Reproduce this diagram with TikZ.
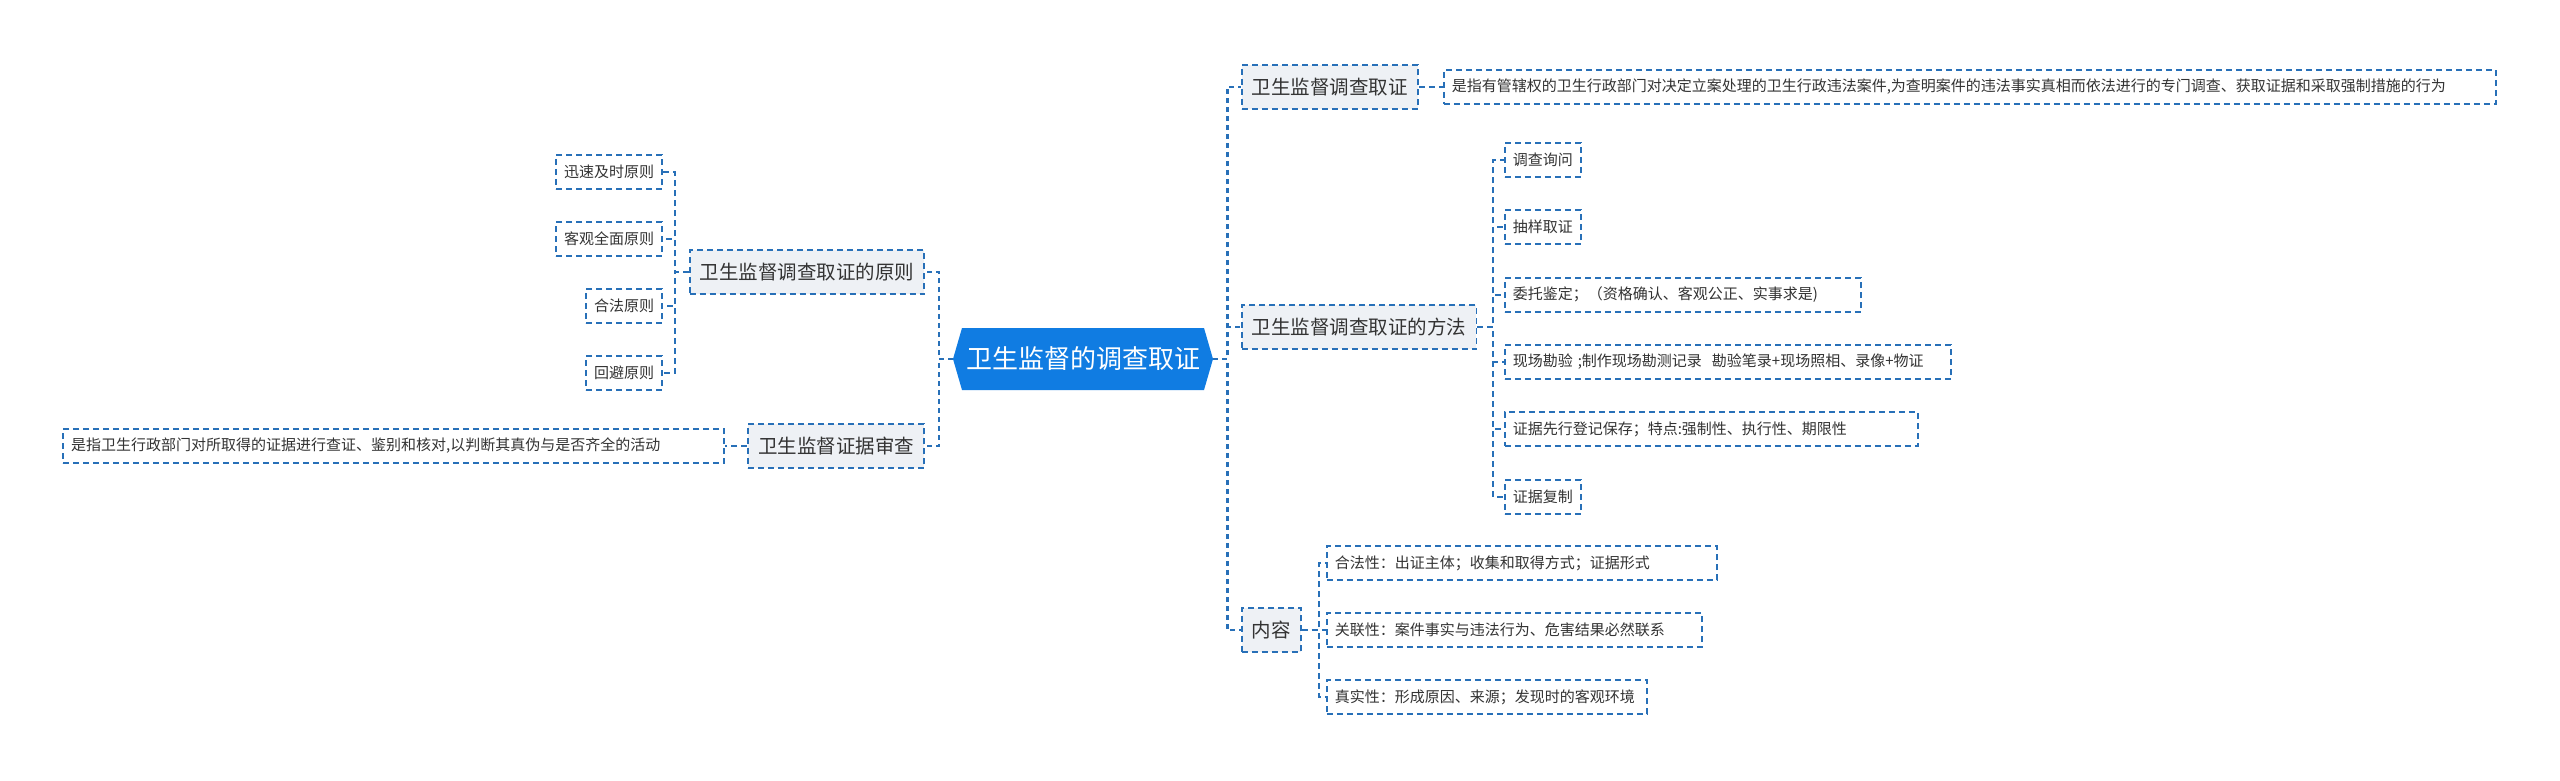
\documentclass[tikz,border=0pt]{standalone}
\usepackage{fontspec}
\newfontfamily\cjk{Noto Sans CJK SC}
\definecolor{lc}{RGB}{40,112,184}
\definecolor{cfill}{RGB}{16,124,226}
\definecolor{subfill}{RGB}{238,241,245}
\definecolor{tc}{RGB}{51,51,51}
\begin{document}
\begin{tikzpicture}[x=1pt,y=-1pt,
  conn/.style={draw=lc, dash pattern=on 6pt off 4pt, line width=1.8pt},
  trunk/.style={draw=lc, dash pattern=on 5pt off 4pt, line width=2.6pt},
  sub/.style={draw=lc, dash pattern=on 6pt off 4pt, line width=1.8pt, fill=subfill, text=tc,
    font=\cjk\fontsize{19.5}{22}\selectfont, inner xsep=10pt, inner ysep=0pt, minimum height=44pt},
  leaf/.style={draw=lc, dash pattern=on 6pt off 4pt, line width=1.6pt, fill=white, text=tc,
    font=\cjk\fontsize{15}{18}\selectfont, inner xsep=8pt, inner ysep=0pt, minimum height=34pt, align=left},
  centre/.style={text=white, font=\cjk\fontsize{26}{30}\selectfont, inner sep=0pt, minimum width=260pt, minimum height=62pt}
]
\useasboundingbox (0,0) rectangle (2560,781);
\fill[white] (0,0) rectangle (2560,781);

% centre
\fill[cfill] (953,359) -- (962,328) -- (1204,328) -- (1213,359) -- (1204,390) -- (962,390) -- cycle;
\node[centre] (c) at (1083,359) {卫生监督的调查取证};

% right subtopics
\node[sub, anchor=west] (A) at (1241,87) {卫生监督调查取证};
\node[sub, anchor=west] (B) at (1241,327) {卫生监督调查取证的方法};
\node[sub, anchor=west] (C) at (1241,630) {内容};

% left subtopics
\node[sub, anchor=east] (D) at (925,272) {卫生监督调查取证的原则};
\node[sub, anchor=east] (E) at (925,446) {卫生监督证据审查};

% A description
\node[leaf, anchor=west, text width=1036pt] (a1) at (1443,87) {是指有管辖权的卫生行政部门对决定立案处理的卫生行政违法案件,为查明案件的违法事实真相而依法进行的专门调查、获取证据和采取强制措施的行为};

% B children
\node[leaf, anchor=west] (b1) at (1504,160) {调查询问};
\node[leaf, anchor=west] (b2) at (1504,227) {抽样取证};
\node[leaf, anchor=west, text width=340pt] (b3) at (1504,295) {委托鉴定；（资格确认、客观公正、实事求是)};
\node[leaf, anchor=west, text width=430pt] (b4) at (1504,362) {现场勘验 ;制作现场勘测记录\ \ 勘验笔录+现场照相、录像+物证};
\node[leaf, anchor=west, text width=397pt] (b5) at (1504,429) {证据先行登记保存；特点:强制性、执行性、期限性};
\node[leaf, anchor=west] (b6) at (1504,497) {证据复制};

% C children
\node[leaf, anchor=west, text width=374pt] (c1) at (1326,563) {合法性：出证主体；收集和取得方式；证据形式};
\node[leaf, anchor=west, text width=359pt] (c2) at (1326,630) {关联性：案件事实与违法行为、危害结果必然联系};
\node[leaf, anchor=west, text width=304pt] (c3) at (1326,697) {真实性：形成原因、来源；发现时的客观环境};

% D children
\node[leaf, anchor=east] (d1) at (663,172) {迅速及时原则};
\node[leaf, anchor=east] (d2) at (663,239) {客观全面原则};
\node[leaf, anchor=east] (d3) at (663,306) {合法原则};
\node[leaf, anchor=east] (d4) at (663,373) {回避原则};

% E description
\node[leaf, anchor=east, text width=645pt] (e1) at (725,446) {是指卫生行政部门对所取得的证据进行查证、鉴别和核对,以判断其真伪与是否齐全的活动};

% connectors: centre
\draw[trunk] (c.east) -- ++(14,0) |- (A.west);
\draw[trunk] (c.east) -- ++(14,0) |- (B.west);
\draw[trunk] (c.east) -- ++(14,0) |- (C.west);
\draw[trunk] (c.west) -- ++(-14,0) |- (D.east);
\draw[trunk] (c.west) -- ++(-14,0) |- (E.east);

% A, E
\draw[conn] (A.east) -- (a1.west);
\draw[conn] (E.west) -- (e1.east);

% B
\foreach \n in {b1,b2,b3,b4,b5,b6}
  \draw[conn] (B.east) -- ++(16,0) |- (\n.west);
% C
\foreach \n in {c1,c2,c3}
  \draw[conn] (C.east) -- ++(17,0) |- (\n.west);
% D
\foreach \n in {d1,d2,d3,d4}
  \draw[conn] (D.west) -- ++(-14,0) |- (\n.east);
\end{tikzpicture}
\end{document}
